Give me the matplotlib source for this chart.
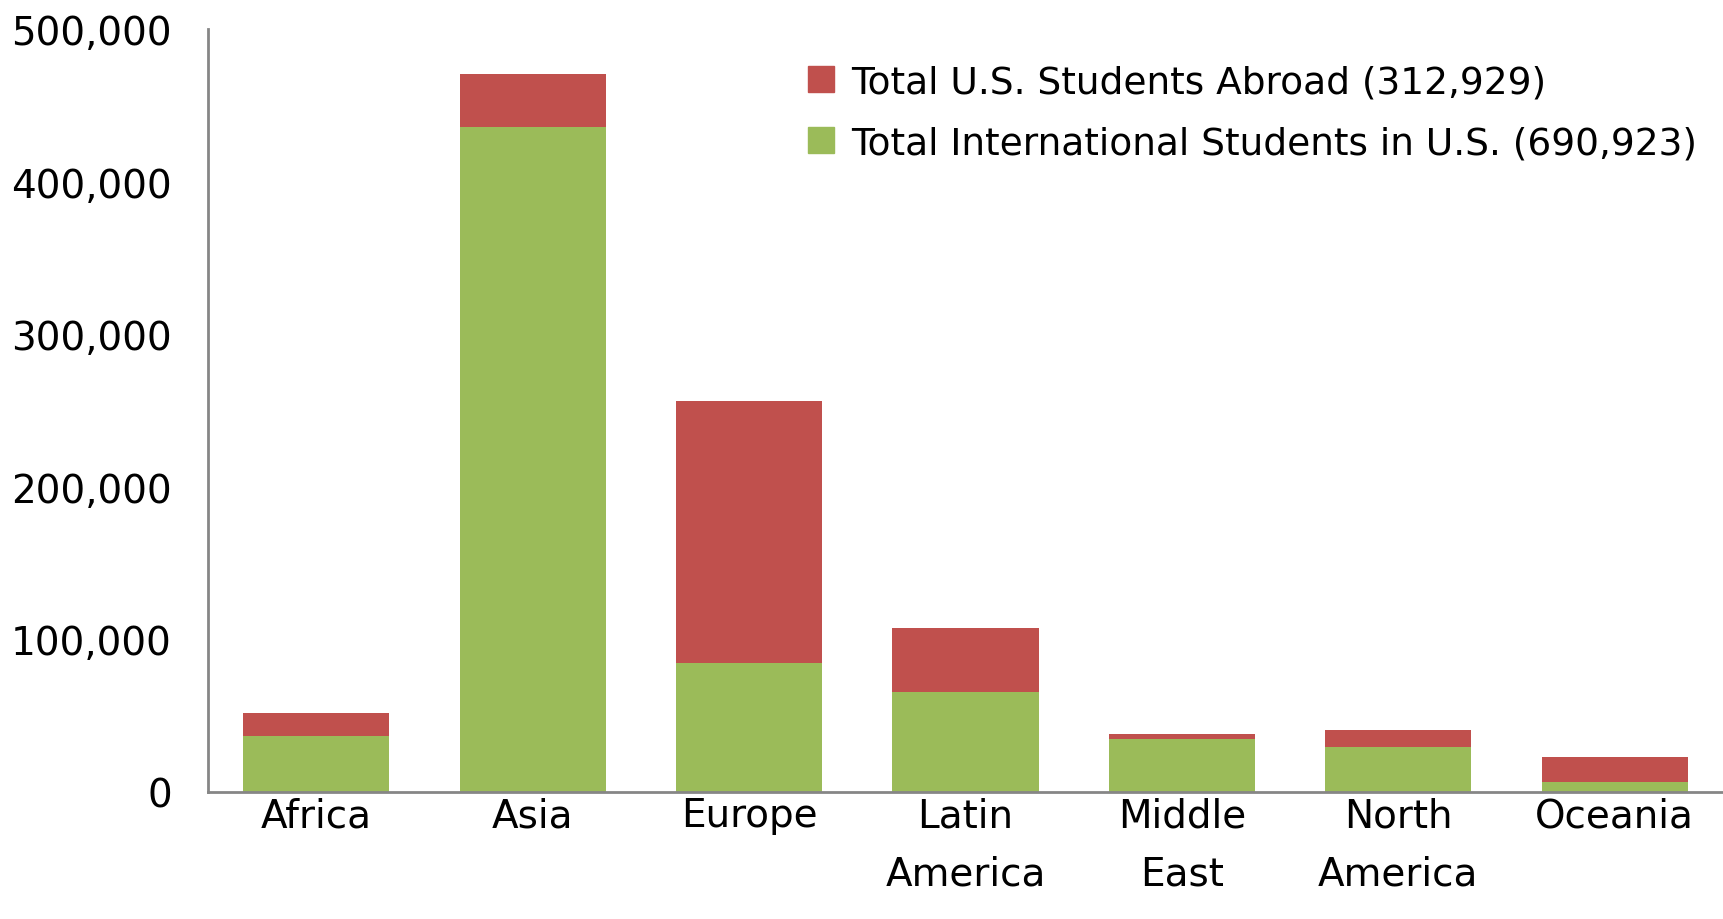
import numpy as np
import matplotlib
matplotlib.use("Agg")
import matplotlib.pyplot as plt
from matplotlib.ticker import FuncFormatter
from matplotlib.patches import Patch

# data
regions = ["Africa", "Asia", "Europe", "Latin\nAmerica", "Middle\nEast", "North\nAmerica", "Oceania"]
intl_in_us = [36900, 436000, 84500, 65500, 34500, 29500, 6500]
us_abroad = [15000, 34500, 172000, 42000, 3500, 11000, 16500]

label_abroad = "Total U.S. Students Abroad (312,929)"
label_intl = "Total International Students in U.S. (690,923)"

red = "#C0504D"
green = "#9BBB59"
gray = "#868686"

plt.rcParams['font.family'] = ['DejaVu Sans']

fig = plt.figure(figsize=(17.23, 9.2), dpi=100)
ax = fig.add_axes([208 / 1723, 1 - 793 / 920, 1 - 208 / 1723, (793 - 30) / 920])

x = np.arange(len(regions))
ax.bar(x, intl_in_us, width=0.675, color=green, linewidth=0)
ax.bar(x, us_abroad, width=0.675, bottom=intl_in_us, color=red, linewidth=0)

ax.set_xlim(-0.5, len(regions) - 0.5)
ax.set_ylim(0, 500000)
ax.set_yticks(np.arange(0, 500001, 100000))
ax.yaxis.set_major_formatter(FuncFormatter(lambda v, p: f"{int(v):,}"))
ax.set_xticks(x)
ax.set_xticklabels(regions, linespacing=1.67)

ax.tick_params(axis="both", length=0, labelsize=28, colors="black")
ax.tick_params(axis="y", pad=26)
ax.tick_params(axis="x", pad=3)

for s in ["top", "right"]:
    ax.spines[s].set_visible(False)
for s in ["left", "bottom"]:
    ax.spines[s].set_color(gray)
    ax.spines[s].set_linewidth(2)

# legend: red entry on top, green below
handles = [Patch(color=red, label=label_abroad), Patch(color=green, label=label_intl)]
ax.legend(handles=handles, loc="upper right", bbox_to_anchor=(1.0, 0.988),
          frameon=False, fontsize=27, handlelength=0.7, handleheight=0.7,
          handletextpad=0.45, labelspacing=0.66, borderaxespad=0.3)

fig.savefig("out.png", dpi=100)
